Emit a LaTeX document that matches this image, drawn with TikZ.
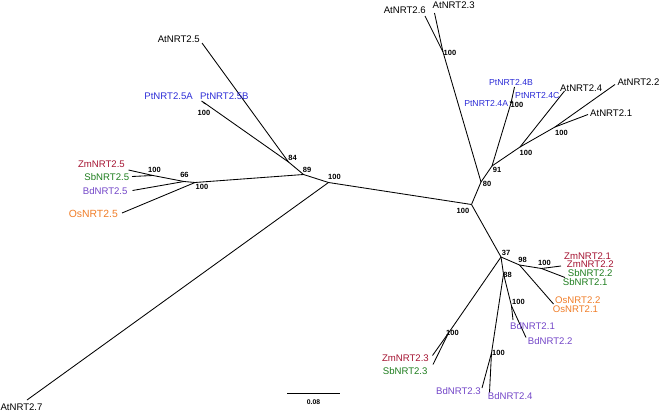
\documentclass[tikz,border=0pt]{standalone}
\usepackage{fontspec}
\setmainfont{Liberation Sans}
\definecolor{ptblue}{RGB}{45,45,215}
\definecolor{zmred}{RGB}{165,20,50}
\definecolor{sbgreen}{RGB}{30,125,30}
\definecolor{bdpurple}{RGB}{115,70,200}
\definecolor{osorange}{RGB}{240,125,40}
\tikzset{
  branch/.style={line width=0.85pt},
  leaf/.style={inner sep=0pt, font=\fontsize{9.6}{10}\selectfont},
  boot/.style={inner sep=0pt, font=\fontsize{7.5}{8}\selectfont\bfseries},
}

\begin{document}
\begin{tikzpicture}[x=1pt, y=-1pt]
  \useasboundingbox (0,0) rectangle (662,415);
  % inner nodes of the tree
  \coordinate (root) at (471.5,204.5);
  \coordinate (nL) at (328.5,182.5);
  \coordinate (n89) at (303.5,174.5);
  \coordinate (n84) at (288.5,162);
  \coordinate (nPt5) at (206,104);
  \coordinate (nMono) at (195,182.5);
  \coordinate (n66) at (184,181.5);
  \coordinate (nZmSb) at (153,175.5);
  \coordinate (n80) at (481,182);
  \coordinate (nA36) at (443,52);
  \coordinate (n91) at (492,166);
  \coordinate (nPt4) at (511,103);
  \coordinate (nAt4) at (520,147);
  \coordinate (nAt12) at (555,127);
  \coordinate (n37) at (501,257);
  \coordinate (n98) at (519.5,265);
  \coordinate (nZmSb2) at (541.5,268.5);
  \coordinate (n88) at (503.5,274);
  \coordinate (nBd12) at (511.5,306);
  \coordinate (nBd34) at (491.5,353);
  \coordinate (nZmSb3) at (448.5,333);
  % tips
  \coordinate (t27) at (27,400);
  \coordinate (t25) at (202,43);
  \coordinate (tPt5A) at (203,102.5);
  \coordinate (tPt5B) at (201.5,101);
  \coordinate (tZm5) at (128.5,170);
  \coordinate (tSb5) at (132,176.5);
  \coordinate (tBd5) at (132.5,190.5);
  \coordinate (tOs5) at (122,213);
  \coordinate (t26) at (425,16);
  \coordinate (t23) at (434.5,13);
  \coordinate (tPt4A) at (510,101.5);
  \coordinate (tPt4B) at (514.5,87);
  \coordinate (tPt4C) at (512.5,101);
  \coordinate (t24) at (564.5,91);
  \coordinate (t22) at (615,84.5);
  \coordinate (t21) at (588,114.5);
  \coordinate (tZm2) at (561,266);
  \coordinate (tSb2) at (565,277.5);
  \coordinate (tOs2) at (553.5,304);
  \coordinate (tBd1) at (513,320);
  \coordinate (tBd2) at (526,337.5);
  \coordinate (tBd3) at (482,388);
  \coordinate (tBd4) at (489.5,392.5);
  \coordinate (tZm3) at (432.5,355.5);
  \coordinate (tSb3) at (433,364.5);

  % branches, left part
  \draw[branch] (root) -- (nL) -- (n89) -- (n84) -- (t25);
  \draw[branch] (nL) -- (t27);
  \draw[branch] (n84) -- (nPt5) -- (tPt5A);
  \draw[branch] (nPt5) -- (tPt5B);
  \draw[branch] (n89) -- (nMono) -- (n66) -- (nZmSb) -- (tZm5);
  \draw[branch] (nZmSb) -- (tSb5);
  \draw[branch] (n66) -- (tBd5);
  \draw[branch] (nMono) -- (tOs5);
  % branches, upper right
  \draw[branch] (root) -- (n80) -- (nA36) -- (t26);
  \draw[branch] (nA36) -- (t23);
  \draw[branch] (n80) -- (n91) -- (nPt4) -- (tPt4B);
  \draw[branch] (nPt4) -- (tPt4A);
  \draw[branch] (nPt4) -- (tPt4C);
  \draw[branch] (n91) -- (nAt4) -- (t24);
  \draw[branch] (nAt4) -- (nAt12) -- (t22);
  \draw[branch] (nAt12) -- (t21);
  % branches, lower right
  \draw[branch] (root) -- (n37) -- (n98) -- (nZmSb2) -- (tZm2);
  \draw[branch] (nZmSb2) -- (tSb2);
  \draw[branch] (n98) -- (tOs2);
  \draw[branch] (n37) -- (n88) -- (nBd12) -- (tBd1);
  \draw[branch] (nBd12) -- (tBd2);
  \draw[branch] (n88) -- (nBd34) -- (tBd3);
  \draw[branch] (nBd34) -- (tBd4);
  \draw[branch] (n37) -- (nZmSb3) -- (tZm3);
  \draw[branch] (nZmSb3) -- (tSb3);

  % bootstrap values
  \node[boot] (bRoot) at (463,210.5) {100};
  \node[boot] (bL) at (334.5,177) {100};
  \node[boot] (b89) at (307,170) {89};
  \node[boot] (b84) at (292.5,157.5) {84};
  \node[boot] (bPt5) at (204,112.5) {100};
  \node[boot] (bMono) at (202,187) {100};
  \node[boot] (b66) at (184.5,175) {66};
  \node[boot] (bZmSb) at (154.5,170) {100};
  \node[boot] (b80) at (487,183.5) {80};
  \node[boot] (bA36) at (450,52.5) {100};
  \node[boot] (b91) at (497,170) {91};
  \node[boot] (bPt4) at (517,105) {100};
  \node[boot] (bAt4) at (526,152.5) {100};
  \node[boot] (bAt12) at (561.5,132.5) {100};
  \node[boot] (b37) at (506,252.5) {37};
  \node[boot] (b98) at (522.5,260) {98};
  \node[boot] (bZmSb2) at (544.5,262.5) {100};
  \node[boot] (b88) at (507.5,275) {88};
  \node[boot] (bBd12) at (518.5,302) {100};
  \node[boot] (bBd34) at (498.5,352.5) {100};
  \node[boot] (bZmSb3) at (452.5,333) {100};

  % labels
  \node[leaf] (l27) at (21.5,407) {AtNRT2.7};
  \node[leaf, anchor=east] (l25) at (200,39) {AtNRT2.5};
  \node[leaf, anchor=east, text=ptblue] (lPt5A) at (193,96) {PtNRT2.5A};
  \node[leaf, anchor=west, text=ptblue] (lPt5B) at (200,96) {PtNRT2.5B};
  \node[leaf, anchor=east, text=zmred] (lZm5) at (125,164) {ZmNRT2.5};
  \node[leaf, anchor=east, text=sbgreen] (lSb5) at (129.3,176.7) {SbNRT2.5};
  \node[leaf, anchor=east, text=bdpurple] (lBd5) at (127.7,190.7) {BdNRT2.5};
  \node[leaf, anchor=east, text=osorange, font=\fontsize{10.4}{11}\selectfont] (lOs5) at (118,214) {OsNRT2.5};
  \node[leaf, anchor=east] (l26) at (426,10) {AtNRT2.6};
  \node[leaf, anchor=west] (l23) at (432.5,5) {AtNRT2.3};
  \node[leaf, text=ptblue, font=\fontsize{8.7}{9}\selectfont] (lPt4B) at (511,82.3) {PtNRT2.4B};
  \node[leaf, anchor=east, text=ptblue, font=\fontsize{8.7}{9}\selectfont] (lPt4A) at (508.3,103.3) {PtNRT2.4A};
  \node[leaf, anchor=west, text=ptblue, font=\fontsize{8.7}{9}\selectfont] (lPt4C) at (515,95.7) {PtNRT2.4C};
  \node[leaf, anchor=west] (l24) at (560,87.7) {AtNRT2.4};
  \node[leaf, anchor=west] (l22) at (617.3,81.7) {AtNRT2.2};
  \node[leaf, anchor=west] (l21) at (590,113.3) {AtNRT2.1};
  \node[leaf, anchor=west, text=zmred] (lZm21) at (564,255.7) {ZmNRT2.1};
  \node[leaf, anchor=west, text=zmred] (lZm22) at (566.7,264.3) {ZmNRT2.2};
  \node[leaf, anchor=west, text=sbgreen] (lSb22) at (567.7,273.3) {SbNRT2.2};
  \node[leaf, anchor=west, text=sbgreen] (lSb21) at (562.7,282.3) {SbNRT2.1};
  \node[leaf, anchor=west, text=osorange] (lOs22) at (555,300) {OsNRT2.2};
  \node[leaf, anchor=west, text=osorange] (lOs21) at (552.7,309.3) {OsNRT2.1};
  \node[leaf, anchor=west, text=bdpurple] (lBd1) at (510,325.7) {BdNRT2.1};
  \node[leaf, anchor=west, text=bdpurple] (lBd2) at (527.7,340.7) {BdNRT2.2};
  \node[leaf, anchor=east, text=bdpurple] (lBd3) at (481,391) {BdNRT2.3};
  \node[leaf, anchor=west, text=bdpurple] (lBd4) at (487.7,395.7) {BdNRT2.4};
  \node[leaf, anchor=east, text=zmred] (lZm3) at (429,358) {ZmNRT2.3};
  \node[leaf, anchor=east, text=sbgreen] (lSb3) at (427.7,371) {SbNRT2.3};

  % scale bar
  \coordinate (sbL) at (287,393.5);
  \coordinate (sbR) at (340,393.5);
  \draw[line width=1.4pt] (sbL) -- (sbR);
  \node[boot, font=\fontsize{6.8}{7}\selectfont\bfseries] (sbText) at (313.5,402.5) {0.08};
\end{tikzpicture}
\end{document}
